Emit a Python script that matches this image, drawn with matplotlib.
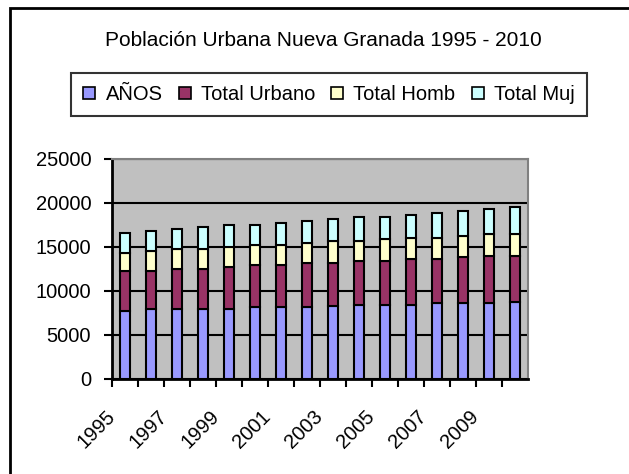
import matplotlib
matplotlib.use("Agg")
import matplotlib.pyplot as plt
from matplotlib.patches import Rectangle, Patch
import numpy as np

plt.rcParams['font.family'] = ['Liberation Sans', 'DejaVu Sans']

years = [str(y) for y in range(1995, 2011)]
anos = [7700, 7900, 7950, 7950, 8000, 8150, 8150, 8200,
        8350, 8400, 8400, 8400, 8600, 8600, 8650, 8800]
total_urbano = [4530, 4350, 4500, 4530, 4690, 4750, 4770, 4950,
                4800, 4970, 4990, 5200, 5010, 5230, 5350, 5220]
total_homb = [2050, 2260, 2290, 2260, 2280, 2290, 2280, 2270,
              2500, 2280, 2490, 2470, 2460, 2470, 2490, 2470]
total_muj = [2320, 2350, 2310, 2540, 2540, 2320, 2540, 2580,
             2540, 2770, 2540, 2610, 2840, 2840, 2840, 3070]

series = [('AÑOS', anos, '#9999FF'),
          ('Total Urbano', total_urbano, '#993366'),
          ('Total Homb', total_homb, '#FFFFCC'),
          ('Total Muj', total_muj, '#CCFFFF')]

W, H = 629, 474
fs = 14.5
fig = plt.figure(figsize=(W / 100, H / 100), dpi=100)
ax = fig.add_axes([112 / W, (H - 379) / H, 416 / W, 220 / H])
ax.set_facecolor('#C0C0C0')

x = np.arange(len(years))
bottom = np.zeros(len(years))
for name, vals, col in series:
    ax.bar(x, vals, 0.4, bottom=bottom, color=col, edgecolor='black',
           linewidth=1.5, zorder=3, label=name)
    bottom += np.array(vals)

ax.set_xlim(-0.5, len(years) - 0.5)
ax.set_ylim(0, 25000)
ax.set_yticks(np.arange(0, 25001, 5000))
ax.yaxis.grid(True, color='black', linewidth=1.5, zorder=1)
ax.tick_params(axis='y', length=6, width=1.5, labelsize=fs, pad=9)

# ticks on category boundaries, a label on every other one
ax.set_xticks(np.arange(-0.5, len(years) - 0.5, 1))
ax.set_xticklabels([y if i % 2 == 0 else '' for i, y in enumerate(years)],
                   rotation=45, ha='right', va='center',
                   rotation_mode='anchor', fontsize=fs)
ax.tick_params(axis='x', length=6, width=1.5, pad=19)

for s in ['left', 'bottom']:
    ax.spines[s].set_linewidth(2)
    ax.spines[s].set_color('black')
for s in ['top', 'right']:
    ax.spines[s].set_linewidth(1.5)
    ax.spines[s].set_color('#808080')

fig.text(323 / W, 1 - 40 / H, 'Población Urbana Nueva Granada 1995 - 2010',
         ha='center', va='center', fontsize=15)

handles = [Patch(facecolor=c, edgecolor='black', linewidth=1.2) for _, _, c in series]
leg = fig.legend(handles, [s[0] for s in series], loc='center',
                 bbox_to_anchor=(329 / W, 1 - 94.5 / H), ncol=4, fontsize=fs,
                 frameon=True, fancybox=False, edgecolor='black',
                 handlelength=0.6, handleheight=0.6, handletextpad=0.5,
                 columnspacing=0.8, borderpad=0.6, borderaxespad=0)
leg.get_frame().set_linewidth(1.5)

fig.patches.append(Rectangle((10 / W, -0.1), 1.2, 1.1 - 8 / H, transform=fig.transFigure,
                             fill=False, edgecolor='black', linewidth=2))

fig.savefig('out.png', dpi=100)
